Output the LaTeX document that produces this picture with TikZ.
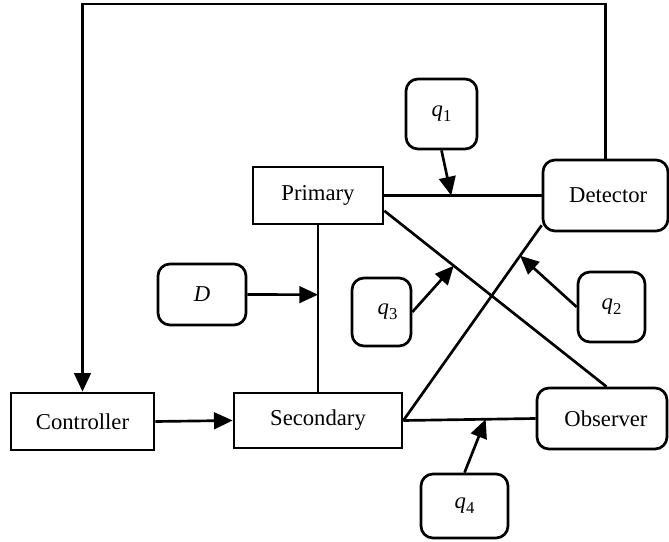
\documentclass[tikz,border=0pt]{standalone}
\usepackage{fontspec}
\setmainfont{Liberation Serif}
\usetikzlibrary{arrows.meta,calc}
\newcommand\qlab[1]{\textit{q}\raisebox{-0.22em}{\fontsize{12.5}{13}\selectfont #1}}
\begin{document}
\begin{tikzpicture}[x=0.75pt,y=-0.75pt,
  every node/.style={font=\fontsize{17}{20}\selectfont},
  box/.style={draw, line width=2pt, inner sep=0pt, align=center},
  rbox/.style={box, rounded corners=9pt},
  ln/.style={line width=2pt},
  arr/.style={ln, -{Triangle[length=14pt,width=12.5pt]}}]
\useasboundingbox (0,0) rectangle (669,542);
% blocks
\node[box, minimum width=97.5pt, minimum height=42.75pt] (prim) at (318,195.5) {Primary};
\node[rbox, minimum width=93.75pt, minimum height=53.25pt] (det) at (605.5,195.5) {\hspace*{4pt}Detector};
\node[box, minimum width=107.25pt, minimum height=42.75pt] (ctrl) at (82.5,421.5) {Controller};
\node[box, minimum width=126pt, minimum height=41.25pt] (sec) at (318,420.5) {Secondary};
\node[rbox, minimum width=97.5pt, minimum height=45.75pt] (obs) at (602,418.5) {\hspace*{6pt}Observer};
% disturbance boxes
\node[rbox, minimum width=53.25pt, minimum height=52.5pt] (q1) at (441.5,114) {\raisebox{-3pt}{\qlab{1}}};
\node[rbox, minimum width=50.25pt, minimum height=52.5pt] (q2) at (611.5,307) {\raisebox{-4pt}{\qlab{2}}};
\node[rbox, minimum width=44.25pt, minimum height=51pt] (q3) at (381.5,312) {\hspace*{9pt}\raisebox{-5pt}{\qlab{3}}};
\node[rbox, minimum width=65.25pt, minimum height=48pt] (q4) at (464.5,506) {\raisebox{-6pt}{\qlab{4}}};
\node[rbox, minimum width=66pt, minimum height=45.75pt] (D) at (202,294.5) {\raisebox{-4pt}{\textit{D}}};
% points on the lines
\coordinate (tl) at (82.5,4);
\coordinate (p1) at ($(prim.east)!0.425!(det.west)$);
\coordinate (p3) at ($(prim.-13.4)!0.3125!(obs.82)$);
\coordinate (p2) at ($(sec.east)!0.844!(det.205)$);
\coordinate (p4) at ($(sec.east)!0.622!(obs.west)$);
\coordinate (pD) at ($(prim.south)!0.417!(sec.north)$);
% connectors
\draw[arr] (det.north) |- (tl) -- (ctrl.north);
\draw[ln] (prim.east) -- (det.west);
\draw[ln] (prim.-13.4) -- (obs.82);
\draw[ln] (sec.east) -- (det.205);
\draw[ln] (sec.east) -- (obs.west);
\draw[ln] (prim.south) -- (sec.north);
\draw[arr] (ctrl.east) -- (sec.west);
\draw[arr] (q1.south) -- (p1);
\draw[arr] (q3.east) -- (p3);
\draw[arr] (q2.west) -- (p2);
\draw[arr] (q4.north) -- (p4);
\draw[arr] (D.east) -- (pD);
\end{tikzpicture}
\end{document}
